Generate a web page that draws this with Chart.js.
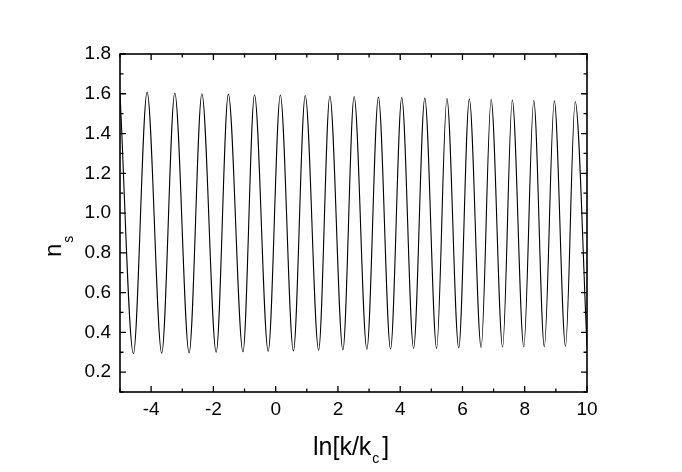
<!DOCTYPE html>
<html>
<head>
<meta charset="utf-8">
<script src="https://cdn.jsdelivr.net/npm/chart.js@4/dist/chart.umd.min.js"></script>
<style>
  html, body { margin: 0; padding: 0; background: #fff; }
  canvas { display: block; }
</style>
</head>
<body>
<canvas id="nsChart" width="682" height="472"></canvas>
<script>
// Oscillation extrema (ln[k/kc] -> n_s)
const lnK = [
  -5.00, -4.57, -4.13, -3.66, -3.24, -2.78, -2.37, -1.91, -1.52, -1.05,
  -0.68, -0.24, 0.15, 0.57, 0.95, 1.38, 1.74, 2.16, 2.52, 2.93,
  3.30, 3.69, 4.05, 4.43, 4.79, 5.17, 5.50, 5.88, 6.22, 6.60,
  6.92, 7.29, 7.60, 7.97, 8.29, 8.63, 8.95, 9.31, 9.62, 10.00
];
const nsValues = [
  1.600, 0.293, 1.608, 0.295, 1.604, 0.297, 1.600, 0.300, 1.598, 0.302,
  1.595, 0.305, 1.594, 0.306, 1.591, 0.310, 1.589, 0.311, 1.586, 0.315,
  1.584, 0.316, 1.581, 0.319, 1.579, 0.320, 1.576, 0.322, 1.574, 0.324,
  1.571, 0.325, 1.569, 0.327, 1.566, 0.328, 1.564, 0.330, 1.561, 0.332
];

// Axis ticks
const xTicks = [-4, -2, 0, 2, 4, 6, 8, 10];
const xMinorTicks = [-5, -3, -1, 1, 3, 5, 7, 9];
const yTicks = [0.2, 0.4, 0.6, 0.8, 1.0, 1.2, 1.4, 1.6, 1.8];
const yMinorTicks = [0.1, 0.3, 0.5, 0.7, 0.9, 1.1, 1.3, 1.5, 1.7];

const FONT = '"Liberation Sans", Arial, sans-serif';

/* ---------------------------------------------------------------------------
    Frame with inward ticks on all four sides + axis titles with subscripts
--------------------------------------------------------------------------- */
const framePlugin = {
  id: 'frame',
  afterDraw(chart) {
    const { ctx, chartArea: a, scales: { x, y } } = chart;
    ctx.save();
    ctx.strokeStyle = '#000';
    ctx.lineWidth = 1.6;
    ctx.strokeRect(a.left, a.top, a.right - a.left, a.bottom - a.top);

    ctx.lineWidth = 1.3;
    const tick = (vals, len) => {
      vals.forEach((v) => {
        const px = x.getPixelForValue(v);
        ctx.beginPath();
        ctx.moveTo(px, a.bottom); ctx.lineTo(px, a.bottom - len);
        ctx.moveTo(px, a.top); ctx.lineTo(px, a.top + len);
        ctx.stroke();
      });
    };
    const tickY = (vals, len) => {
      vals.forEach((v) => {
        const py = y.getPixelForValue(v);
        ctx.beginPath();
        ctx.moveTo(a.left, py); ctx.lineTo(a.left + len, py);
        ctx.moveTo(a.right, py); ctx.lineTo(a.right - len, py);
        ctx.stroke();
      });
    };
    tick(xTicks, 6);
    tick(xMinorTicks, 3.5);
    tickY(yTicks, 6);
    tickY(yMinorTicks, 3.5);

    // x title: ln[k/k_c]
    ctx.fillStyle = '#000';
    ctx.textBaseline = 'alphabetic';
    ctx.textAlign = 'left';
    ctx.font = `25px ${FONT}`;
    let cx = 313;
    const base = 455;
    const part1 = 'ln[k/k';
    ctx.fillText(part1, cx, base);
    cx += ctx.measureText(part1).width;
    ctx.font = `14px ${FONT}`;
    ctx.fillText('c', cx + 1, base + 8);
    cx += ctx.measureText('c').width + 4;
    ctx.font = `25px ${FONT}`;
    ctx.fillText(']', cx, base);

    // y title: n_s (rotated)
    ctx.translate(61, 257);
    ctx.rotate(-Math.PI / 2);
    ctx.font = `24px ${FONT}`;
    ctx.fillText('n', 0, 0);
    const nw = ctx.measureText('n').width;
    ctx.font = `14px ${FONT}`;
    ctx.fillText('s', nw + 1, 12);
    ctx.restore();
  }
};

const ctx = document.getElementById('nsChart').getContext('2d');

new Chart(ctx, {
  type: 'line',
  data: {
    datasets: [{
      data: lnK.map((v, i) => ({ x: v, y: nsValues[i] })),
      borderColor: '#000',
      borderWidth: 1.1,
      pointRadius: 0,
      fill: false,
      cubicInterpolationMode: 'monotone'
    }]
  },
  options: {
    responsive: false,
    animation: false,
    layout: { padding: { left: 0, top: 54, right: 95, bottom: 0 } },
    plugins: {
      legend: { display: false },
      tooltip: { enabled: false }
    },
    scales: {
      x: {
        type: 'linear',
        min: -5,
        max: 10,
        afterBuildTicks: (scale) => { scale.ticks = xTicks.map((v) => ({ value: v })); },
        afterFit: (scale) => { scale.height = 80; },
        grid: { display: false, drawTicks: false },
        border: { display: false },
        ticks: {
          padding: 6,
          color: '#000',
          font: { family: FONT, size: 19 },
          maxRotation: 0,
          callback: (v) => String(v)
        }
      },
      y: {
        type: 'linear',
        min: 0.1,
        max: 1.8,
        afterBuildTicks: (scale) => { scale.ticks = yTicks.map((v) => ({ value: v })); },
        afterFit: (scale) => { scale.width = 120; },
        grid: { display: false, drawTicks: false },
        border: { display: false },
        ticks: {
          padding: 9,
          color: '#000',
          font: { family: FONT, size: 19 },
          callback: (v) => Number(v).toFixed(1)
        }
      }
    }
  },
  plugins: [framePlugin]
});
</script>
</body>
</html>
